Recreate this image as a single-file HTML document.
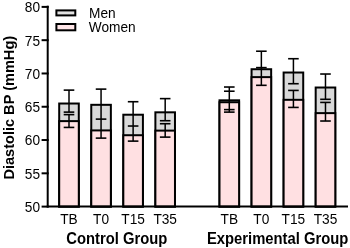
<!DOCTYPE html>
<html><head><meta charset="utf-8"><style>
html,body{margin:0;padding:0;background:#fff;width:350px;height:248px;overflow:hidden}
svg{display:block;will-change:transform}
.t{font-family:"Liberation Sans",sans-serif;font-size:13.7px;fill:#000}
.b{font-family:"Liberation Sans",sans-serif;font-size:14.8px;font-weight:bold;fill:#000}
</style></head><body>
<svg width="350" height="248" viewBox="0 0 350 248">
<rect width="350" height="248" fill="#fff"/>
<rect x="59.20" y="103.52" width="19.6" height="103.08" fill="#d9d9d9" stroke="#000" stroke-width="2"/>
<rect x="59.20" y="121.12" width="19.6" height="85.48" fill="#ffe0e2" stroke="#000" stroke-width="2"/>
<rect x="91.26" y="104.82" width="19.6" height="101.78" fill="#d9d9d9" stroke="#000" stroke-width="2"/>
<rect x="91.26" y="130.42" width="19.6" height="76.18" fill="#ffe0e2" stroke="#000" stroke-width="2"/>
<rect x="123.32" y="114.72" width="19.6" height="91.88" fill="#d9d9d9" stroke="#000" stroke-width="2"/>
<rect x="123.32" y="135.22" width="19.6" height="71.38" fill="#ffe0e2" stroke="#000" stroke-width="2"/>
<rect x="155.38" y="112.32" width="19.6" height="94.28" fill="#d9d9d9" stroke="#000" stroke-width="2"/>
<rect x="155.38" y="130.62" width="19.6" height="75.98" fill="#ffe0e2" stroke="#000" stroke-width="2"/>
<rect x="219.50" y="100.32" width="19.6" height="106.28" fill="#d9d9d9" stroke="#000" stroke-width="2"/>
<rect x="219.50" y="102.22" width="19.6" height="104.38" fill="#ffe0e2" stroke="#000" stroke-width="2"/>
<rect x="251.56" y="69.22" width="19.6" height="137.38" fill="#d9d9d9" stroke="#000" stroke-width="2"/>
<rect x="251.56" y="77.12" width="19.6" height="129.48" fill="#ffe0e2" stroke="#000" stroke-width="2"/>
<rect x="283.62" y="72.52" width="19.6" height="134.08" fill="#d9d9d9" stroke="#000" stroke-width="2"/>
<rect x="283.62" y="99.82" width="19.6" height="106.78" fill="#ffe0e2" stroke="#000" stroke-width="2"/>
<rect x="315.68" y="87.52" width="19.6" height="119.08" fill="#d9d9d9" stroke="#000" stroke-width="2"/>
<rect x="315.68" y="113.12" width="19.6" height="93.48" fill="#ffe0e2" stroke="#000" stroke-width="2"/>
<line x1="69.00" y1="90.12" x2="69.00" y2="112.12" stroke="#000" stroke-width="1.5"/>
<line x1="69.00" y1="114.62" x2="69.00" y2="127.42" stroke="#000" stroke-width="1.5"/>
<line x1="63.70" y1="90.12" x2="74.30" y2="90.12" stroke="#000" stroke-width="1.6"/>
<line x1="63.70" y1="112.12" x2="74.30" y2="112.12" stroke="#000" stroke-width="1.6"/>
<line x1="63.70" y1="114.62" x2="74.30" y2="114.62" stroke="#000" stroke-width="1.6"/>
<line x1="63.70" y1="127.42" x2="74.30" y2="127.42" stroke="#000" stroke-width="1.6"/>
<line x1="101.06" y1="89.12" x2="101.06" y2="138.12" stroke="#000" stroke-width="1.5"/>
<line x1="95.76" y1="89.12" x2="106.36" y2="89.12" stroke="#000" stroke-width="1.6"/>
<line x1="95.76" y1="119.12" x2="106.36" y2="119.12" stroke="#000" stroke-width="1.6"/>
<line x1="95.76" y1="138.12" x2="106.36" y2="138.12" stroke="#000" stroke-width="1.6"/>
<line x1="133.12" y1="101.72" x2="133.12" y2="141.12" stroke="#000" stroke-width="1.5"/>
<line x1="127.82" y1="101.72" x2="138.42" y2="101.72" stroke="#000" stroke-width="1.6"/>
<line x1="127.82" y1="126.02" x2="138.42" y2="126.02" stroke="#000" stroke-width="1.6"/>
<line x1="127.82" y1="141.12" x2="138.42" y2="141.12" stroke="#000" stroke-width="1.6"/>
<line x1="165.18" y1="98.62" x2="165.18" y2="120.72" stroke="#000" stroke-width="1.5"/>
<line x1="165.18" y1="123.72" x2="165.18" y2="137.12" stroke="#000" stroke-width="1.5"/>
<line x1="159.88" y1="98.62" x2="170.48" y2="98.62" stroke="#000" stroke-width="1.6"/>
<line x1="159.88" y1="120.72" x2="170.48" y2="120.72" stroke="#000" stroke-width="1.6"/>
<line x1="159.88" y1="123.72" x2="170.48" y2="123.72" stroke="#000" stroke-width="1.6"/>
<line x1="159.88" y1="137.12" x2="170.48" y2="137.12" stroke="#000" stroke-width="1.6"/>
<line x1="229.30" y1="87.02" x2="229.30" y2="112.12" stroke="#000" stroke-width="1.5"/>
<line x1="224.00" y1="87.02" x2="234.60" y2="87.02" stroke="#000" stroke-width="1.6"/>
<line x1="224.00" y1="91.22" x2="234.60" y2="91.22" stroke="#000" stroke-width="1.6"/>
<line x1="224.00" y1="109.62" x2="234.60" y2="109.62" stroke="#000" stroke-width="1.6"/>
<line x1="224.00" y1="112.12" x2="234.60" y2="112.12" stroke="#000" stroke-width="1.6"/>
<line x1="261.36" y1="51.22" x2="261.36" y2="85.32" stroke="#000" stroke-width="1.5"/>
<line x1="256.06" y1="51.22" x2="266.66" y2="51.22" stroke="#000" stroke-width="1.6"/>
<line x1="256.06" y1="67.62" x2="266.66" y2="67.62" stroke="#000" stroke-width="1.6"/>
<line x1="256.06" y1="85.32" x2="266.66" y2="85.32" stroke="#000" stroke-width="1.6"/>
<line x1="293.42" y1="58.72" x2="293.42" y2="83.72" stroke="#000" stroke-width="1.5"/>
<line x1="293.42" y1="90.42" x2="293.42" y2="107.42" stroke="#000" stroke-width="1.5"/>
<line x1="288.12" y1="58.72" x2="298.72" y2="58.72" stroke="#000" stroke-width="1.6"/>
<line x1="288.12" y1="83.72" x2="298.72" y2="83.72" stroke="#000" stroke-width="1.6"/>
<line x1="288.12" y1="90.42" x2="298.72" y2="90.42" stroke="#000" stroke-width="1.6"/>
<line x1="288.12" y1="107.42" x2="298.72" y2="107.42" stroke="#000" stroke-width="1.6"/>
<line x1="325.48" y1="74.02" x2="325.48" y2="99.32" stroke="#000" stroke-width="1.5"/>
<line x1="325.48" y1="102.42" x2="325.48" y2="121.02" stroke="#000" stroke-width="1.5"/>
<line x1="320.18" y1="74.02" x2="330.78" y2="74.02" stroke="#000" stroke-width="1.6"/>
<line x1="320.18" y1="99.32" x2="330.78" y2="99.32" stroke="#000" stroke-width="1.6"/>
<line x1="320.18" y1="102.42" x2="330.78" y2="102.42" stroke="#000" stroke-width="1.6"/>
<line x1="320.18" y1="121.02" x2="330.78" y2="121.02" stroke="#000" stroke-width="1.6"/>
<line x1="47.7" y1="5.7" x2="47.7" y2="207.4" stroke="#000" stroke-width="2"/>
<line x1="46.7" y1="206.6" x2="348" y2="206.6" stroke="#000" stroke-width="2"/>
<line x1="41.6" y1="6.90" x2="48.7" y2="6.90" stroke="#000" stroke-width="2"/>
<g transform="translate(40.00,12.30) scale(1,1.08)"><text x="0" y="0" text-anchor="end" class="t">80</text></g>
<line x1="41.6" y1="40.18" x2="48.7" y2="40.18" stroke="#000" stroke-width="2"/>
<g transform="translate(40.00,45.58) scale(1,1.08)"><text x="0" y="0" text-anchor="end" class="t">75</text></g>
<line x1="41.6" y1="73.47" x2="48.7" y2="73.47" stroke="#000" stroke-width="2"/>
<g transform="translate(40.00,78.87) scale(1,1.08)"><text x="0" y="0" text-anchor="end" class="t">70</text></g>
<line x1="41.6" y1="106.75" x2="48.7" y2="106.75" stroke="#000" stroke-width="2"/>
<g transform="translate(40.00,112.15) scale(1,1.08)"><text x="0" y="0" text-anchor="end" class="t">65</text></g>
<line x1="41.6" y1="140.03" x2="48.7" y2="140.03" stroke="#000" stroke-width="2"/>
<g transform="translate(40.00,145.43) scale(1,1.08)"><text x="0" y="0" text-anchor="end" class="t">60</text></g>
<line x1="41.6" y1="173.32" x2="48.7" y2="173.32" stroke="#000" stroke-width="2"/>
<g transform="translate(40.00,178.72) scale(1,1.08)"><text x="0" y="0" text-anchor="end" class="t">55</text></g>
<line x1="41.6" y1="206.60" x2="48.7" y2="206.60" stroke="#000" stroke-width="2"/>
<g transform="translate(40.00,212.00) scale(1,1.08)"><text x="0" y="0" text-anchor="end" class="t">50</text></g>
<g transform="translate(69.00,223.80) scale(1,1.08)"><text x="0" y="0" text-anchor="middle" class="t">TB</text></g>
<g transform="translate(101.06,223.80) scale(1,1.08)"><text x="0" y="0" text-anchor="middle" class="t">T0</text></g>
<g transform="translate(133.12,223.80) scale(1,1.08)"><text x="0" y="0" text-anchor="middle" class="t">T15</text></g>
<g transform="translate(165.18,223.80) scale(1,1.08)"><text x="0" y="0" text-anchor="middle" class="t">T35</text></g>
<g transform="translate(229.30,223.80) scale(1,1.08)"><text x="0" y="0" text-anchor="middle" class="t">TB</text></g>
<g transform="translate(261.36,223.80) scale(1,1.08)"><text x="0" y="0" text-anchor="middle" class="t">T0</text></g>
<g transform="translate(293.42,223.80) scale(1,1.08)"><text x="0" y="0" text-anchor="middle" class="t">T15</text></g>
<g transform="translate(325.48,223.80) scale(1,1.08)"><text x="0" y="0" text-anchor="middle" class="t">T35</text></g>
<g transform="translate(116.80,243.60) scale(1,1.08)"><text x="0" y="0" text-anchor="middle" class="b">Control Group</text></g>
<g transform="translate(277.60,243.60) scale(1,1.08)"><text x="0" y="0" text-anchor="middle" class="b">Experimental Group</text></g>
<g transform="translate(13.7,107.75) rotate(-90) scale(1,1.03)"><text x="0" y="0" text-anchor="middle" class="b" style="font-size:14.57px">Diastolic BP (mmHg)</text></g>
<rect x="56.4" y="10.4" width="18.9" height="5" fill="#e2e2e2" stroke="#000" stroke-width="2"/>
<rect x="56.4" y="24.0" width="18.9" height="6.3" fill="#ffe6e8" stroke="#000" stroke-width="2"/>
<g transform="translate(89.00,17.90) scale(1,1.08)"><text x="0" y="0" text-anchor="start" class="t">Men</text></g>
<g transform="translate(88.80,31.60) scale(1,1.08)"><text x="0" y="0" text-anchor="start" class="t">Women</text></g>
</svg>
</body></html>
